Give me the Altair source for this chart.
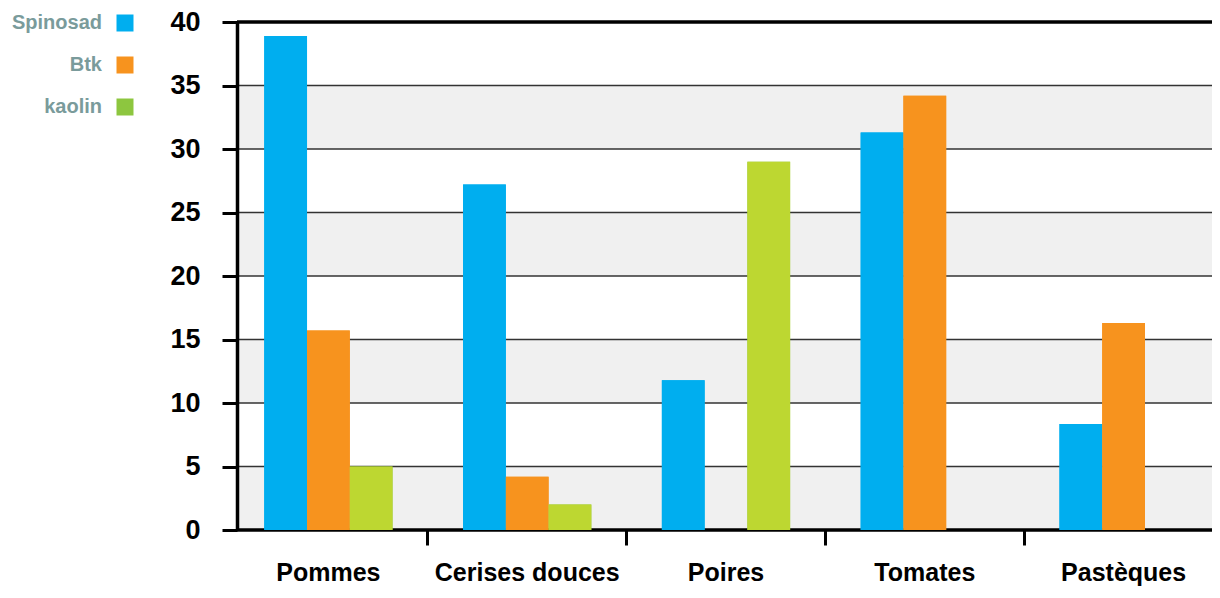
import altair as alt
import pandas as pd

categories = ["Pommes", "Cerises douces", "Poires", "Tomates", "Pastèques"]
series = ["Spinosad", "Btk", "kaolin"]
spinosad = [38.9, 27.2, 11.8, 31.3, 8.35]
btk = [15.7, 4.2, 0.0, 34.2, 16.3]
kaolin = [5.0, 2.0, 29.0, 0.0, 0.0]

y_ticks = [0, 5, 10, 15, 20, 25, 30, 35, 40]
grid_values = [5, 10, 15, 20, 25, 30, 35]
frame_values = [0, 40]
band_low = [0, 10, 20, 30]
band_high = [5, 15, 25, 35]

bar_colors = ["#00AEEF", "#F7931E", "#BDD731"]
legend_colors = ["#00AEEF", "#F7931E", "#8DC63F"]

FONT = "Liberation Sans"

rows = []
for i, c in enumerate(categories):
    for s, vals in zip(series, [spinosad, btk, kaolin]):
        rows.append({"Categorie": c, "Serie": s, "Valeur": vals[i]})
df = pd.DataFrame(rows)
bands_df = pd.DataFrame({"lo": band_low, "hi": band_high})
grid_df = pd.DataFrame({"v": grid_values})
frame_df = pd.DataFrame({"v": frame_values})

yscale = alt.Scale(domain=[0, 40], nice=False, zero=True)
yaxis = alt.Axis(
    values=y_ticks, grid=False, title=None,
    domainColor="black", domainWidth=3.5,
    tickColor="black", tickWidth=3, tickSize=15,
    labelFont=FONT, labelFontSize=27, labelFontWeight="bold", labelColor="black",
    labelPadding=22, zindex=1,
)

bands = alt.Chart(bands_df).mark_rect(color="#F0F0F0").encode(
    x=alt.value(0), x2=alt.value("width"),
    y=alt.Y("lo:Q", scale=yscale, axis=yaxis),
    y2="hi:Q",
)

grid = alt.Chart(grid_df).mark_rule(color="#333333", strokeWidth=1.5).encode(
    y=alt.Y("v:Q", scale=yscale, axis=yaxis),
)

frame = alt.Chart(frame_df).mark_rule(color="black", strokeWidth=3.5).encode(
    y=alt.Y("v:Q", scale=yscale, axis=yaxis),
)

xaxis = alt.Axis(
    title=None, labelAngle=0, bandPosition=0, labelLimit=0, domain=False,
    tickColor="black", tickWidth=3, tickSize=15,
    tickOpacity={"condition": {"test": "datum.value === 'Pommes'", "value": 0}, "value": 1},
    labelFont=FONT, labelFontSize=25, labelFontWeight="bold", labelColor="black",
    labelPadding=15, zindex=1,
)

xenc = alt.X("Categorie:N", sort=categories,
             scale=alt.Scale(range=[-8, 986], paddingInner=0, paddingOuter=0),
             axis=xaxis)
xoff = alt.XOffset("Serie:N", sort=series,
                   scale=alt.Scale(paddingOuter=0.825, paddingInner=0))

# hidden copy of the bars (fully covered) that carries the legend colours
legend_bars = alt.Chart(df).mark_bar().encode(
    x=xenc, xOffset=xoff,
    y=alt.Y("Valeur:Q", scale=yscale, axis=yaxis),
    fill=alt.Fill("Serie:N", sort=series,
                  scale=alt.Scale(domain=series, range=legend_colors),
                  legend=alt.Legend(
                      title=None, orient="none", legendX=-122, legendY=-9,
                      direction="vertical", symbolType="square", symbolSize=289,
                      symbolStrokeWidth=0, symbolOpacity=1,
                      labelAlign="right", labelOffset=alt.expr("-33"),
                      labelFont=FONT, labelFontSize=20, labelFontWeight="bold",
                      labelColor="#7A9B9B", rowPadding=22, padding=0,
                  )),
)

bars = alt.Chart(df).mark_bar().encode(
    x=xenc, xOffset=xoff,
    y=alt.Y("Valeur:Q", scale=yscale, axis=yaxis),
    color=alt.Color("Serie:N", sort=series,
                    scale=alt.Scale(domain=series, range=bar_colors), legend=None),
)

chart = alt.layer(bands, grid, frame, legend_bars, bars).properties(
    width=975, height=508,
    autosize=alt.AutoSizeParams(type="none"),
    padding={"left": 229, "top": 14, "right": 0, "bottom": 60},
).configure(background="white").configure_view(stroke=None)

chart.save("out.html", embed_options={"renderer": "svg", "actions": False})
